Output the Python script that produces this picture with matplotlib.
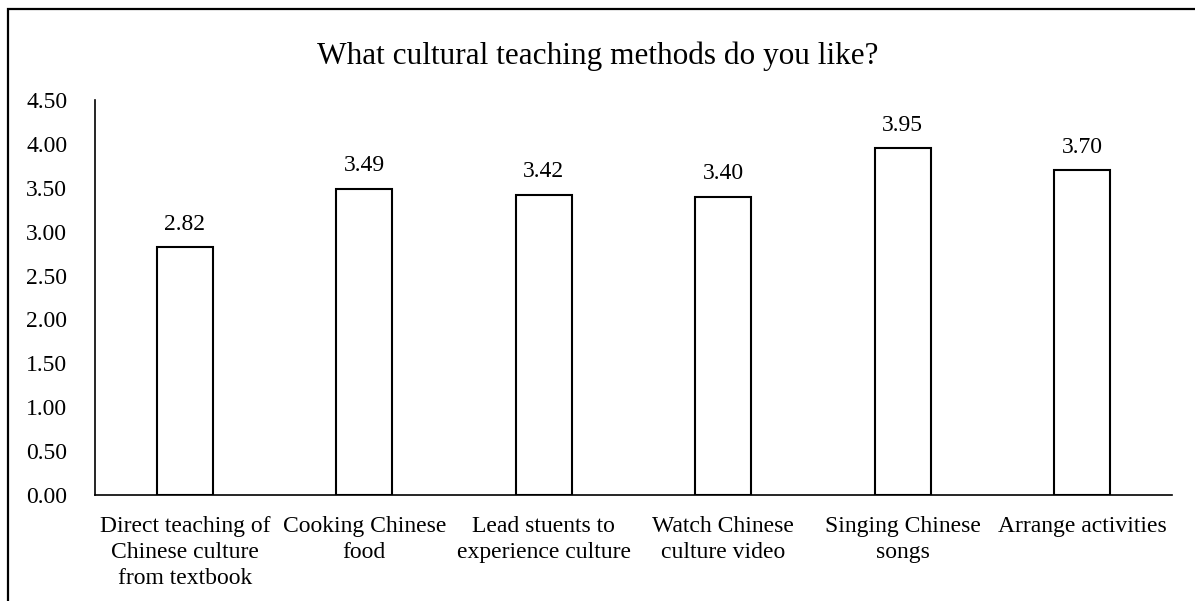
import matplotlib
matplotlib.use("Agg")
import matplotlib.pyplot as plt
from matplotlib.patches import Rectangle

# datos del grafico
categorias = [
    "Direct teaching of\nChinese culture\nfrom textbook",
    "Cooking Chinese\nfood",
    "Lead stuents to\nexperience culture",
    "Watch Chinese\nculture video",
    "Singing Chinese\nsongs",
    "Arrange activities",
]
valores = [2.82, 3.49, 3.42, 3.40, 3.95, 3.70]
marcas_y = [0.0, 0.5, 1.0, 1.5, 2.0, 2.5, 3.0, 3.5, 4.0, 4.5]
titulo = "What cultural teaching methods do you like?"

plt.rcParams["font.family"] = ["Liberation Serif", "DejaVu Serif"]

fig = plt.figure(figsize=(11.95, 6.01), dpi=100)
ax = fig.add_axes([0.0795, 0.1764, 0.9013, 0.6572])

x = list(range(len(categorias)))
barras = ax.bar(x, valores, width=0.31, color="white", edgecolor="black", linewidth=1.5)

for xi, v in zip(x, valores):
    ax.annotate(f"{v:.2f}", (xi, v), xytext=(0, 9), textcoords="offset points",
                ha="center", va="bottom", fontsize=17)

ax.set_xlim(-0.5, len(categorias) - 0.5)
ax.set_ylim(0, 4.5)
ax.set_yticks(marcas_y)
ax.set_yticklabels([f"{m:.2f}" for m in marcas_y], fontsize=17)
ax.set_xticks(x)
ax.set_xticklabels(categorias, fontsize=17, linespacing=1.31)
ax.tick_params(axis="x", length=0, pad=15)
ax.tick_params(axis="y", length=0, pad=20)

for s in ["top", "right"]:
    ax.spines[s].set_visible(False)
ax.spines["left"].set_linewidth(1.2)
ax.spines["bottom"].set_linewidth(1.2)

fig.text(0.5, 0.907, titulo, ha="center", va="center", fontsize=22.5)

# marco exterior (cortado a la derecha y abajo)
marco = Rectangle((0.0067, -0.1), 1.1, 1.085, transform=fig.transFigure,
                  fill=False, edgecolor="black", linewidth=1.6, clip_on=False)
fig.patches.append(marco)

fig.savefig("out.png", dpi=100)
